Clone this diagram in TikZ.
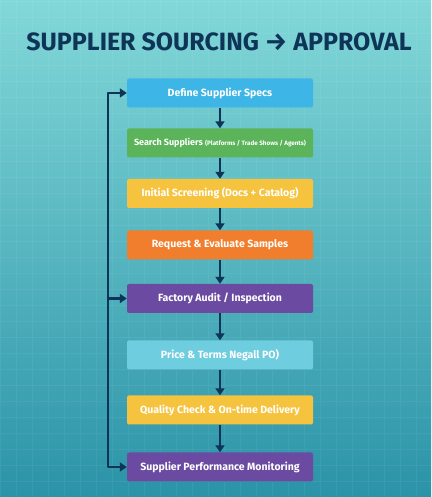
\documentclass[tikz,border=0pt]{standalone}
\usepackage{fontspec}
\setmainfont{Fira Sans}
\usetikzlibrary{arrows.meta}
\definecolor{bgtop}{HTML}{82D8D8}
\definecolor{bgbot}{HTML}{2B93A8}
\definecolor{navy}{HTML}{0E3558}
\definecolor{cblue}{HTML}{3DB5E6}
\definecolor{cgreen}{HTML}{5CB45A}
\definecolor{cyellow}{HTML}{F6C33F}
\definecolor{corange}{HTML}{F07E2D}
\definecolor{cpurple}{HTML}{6B4BA1}
\definecolor{ccyan}{HTML}{6FCDE0}
\tikzset{
  stepbox/.style={rounded corners=2pt, minimum width=186pt, minimum height=29pt, inner sep=0pt,
    text=white, font=\fontsize{10.5}{12}\selectfont\bfseries},
  flow/.style={draw=navy, line width=2.4pt, -{Triangle[length=7pt,width=9pt]}},
}
\begin{document}
\begin{tikzpicture}[x=1pt,y=1pt]
\useasboundingbox (0,0) rectangle (431,497);
\shade[top color=bgtop, bottom color=bgbot] (0,0) rectangle (431,497);
\draw[white, opacity=0.06, line width=0.5pt, step=16] (0,0) grid (431,497);
\node[font=\fontsize{25}{28}\selectfont\bfseries, text=navy] (title) at (219,455) {SUPPLIER SOURCING → APPROVAL};
\node[stepbox, fill=cblue] (s1) at (220,404) {Define Supplier Specs};
\node[stepbox, fill=cgreen, font=\fontsize{9}{11}\selectfont\bfseries] (s2) at (220,354) {Search Suppliers {\fontsize{6.3}{8}\selectfont (Platforms / Trade Shows / Agents)}};
\node[stepbox, fill=cyellow] (s3) at (220,303.5) {Initial Screening (Docs + Catalog)};
\node[stepbox, fill=corange] (s4) at (220,252) {Request \& Evaluate Samples};
\node[stepbox, fill=cpurple] (s5) at (220,198.5) {Factory Audit / Inspection};
\node[stepbox, fill=ccyan] (s6) at (220,142) {Price \& Terms Negall PO)};
\node[stepbox, fill=cyellow] (s7) at (220,87) {Quality Check \& On-time Delivery};
\node[stepbox, fill=cpurple] (s8) at (220,30) {Supplier Performance Monitoring};
\foreach \a/\b in {s1/s2,s2/s3,s3/s4,s4/s5,s5/s6,s6/s7,s7/s8}
  \draw[flow] (\a.south) -- (\b.north);
\coordinate (lt) at (108,404);
\coordinate (lb) at (108,30);
\draw[navy, line width=2.4pt, line join=round] (s8.west) ++(-4,0) -- (lb) -- (lt) -- ++(4,0);
\draw[flow] (lt) -- (s1.west);
\draw[flow] (108,198.5) -- (s5.west);
\draw[flow] (lb) -- (s8.west);
\end{tikzpicture}
\end{document}
